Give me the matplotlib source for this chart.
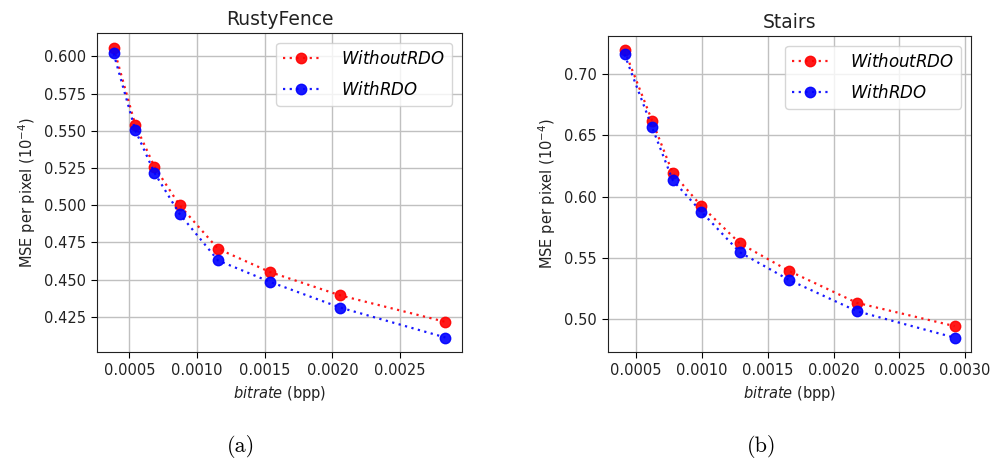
import numpy as np
import matplotlib.pyplot as plt
import matplotlib

matplotlib.rcParams['mathtext.fontset'] = 'dejavusans'

# RustyFence
rf_bpp_wo = [0.000384, 0.000544, 0.000685, 0.000871, 0.001155, 0.001541, 0.002058, 0.002834]
rf_mse_wo = [0.606, 0.554, 0.526, 0.500, 0.4707, 0.455, 0.4394, 0.4216]
rf_bpp_w = [0.000384, 0.000544, 0.000685, 0.000871, 0.001155, 0.001541, 0.002058, 0.002834]
rf_mse_w = [0.602, 0.5505, 0.5219, 0.4942, 0.4629, 0.4484, 0.4312, 0.4111]

# Stairs
st_bpp_wo = [0.000411, 0.000621, 0.000778, 0.000996, 0.001287, 0.001659, 0.002178, 0.002919]
st_mse_wo = [0.719, 0.6617, 0.619, 0.5922, 0.5620, 0.5396, 0.5135, 0.4946]
st_bpp_w = [0.000411, 0.000621, 0.000778, 0.000996, 0.001287, 0.001659, 0.002178, 0.002919]
st_mse_w = [0.7157, 0.6563, 0.6132, 0.5876, 0.5547, 0.5323, 0.5067, 0.4852]

titles = ['RustyFence', 'Stairs']
captions = ['(a)', '(b)']

W, H = 998, 463
fig = plt.figure(figsize=(W/100, H/100), dpi=100)

boxes = [(97, 33, 462, 352), (608, 36, 971, 352)]
cap_x = [241, 762]
data = [(rf_bpp_wo, rf_mse_wo, rf_bpp_w, rf_mse_w),
        (st_bpp_wo, st_mse_wo, st_bpp_w, st_mse_w)]

for i in range(2):
    x0, y0, x1, y1 = boxes[i]
    ax = fig.add_axes([x0/W, 1-y1/H, (x1-x0)/W, (y1-y0)/H])
    bwo, mwo, bw, mw = data[i]
    ax.plot(bwo, mwo, color='red', marker='o', markersize=7.5, lw=1.6,
            dashes=(1, 2), alpha=0.9, label='$WithoutRDO$')
    ax.plot(bw, mw, color='blue', marker='o', markersize=7.5, lw=1.6,
            dashes=(1, 2), alpha=0.9, label='$WithRDO$')
    ax.grid(True, color='#c0c0c0', lw=1.0)
    ax.set_title(titles[i], fontsize=13.5, color='#222222')
    ax.set_xlabel('$bitrate$ (bpp)', fontsize=10.5, color='#222222')
    ax.set_ylabel('MSE per pixel ($10^{-4}$)', fontsize=10.5, color='#222222')
    ax.tick_params(labelsize=10.5, labelcolor='#222222', length=4.5)
    for s in ax.spines.values():
        s.set_color('#222222')
    if i == 1:
        ax.set_xticks([0.0005, 0.0010, 0.0015, 0.0020, 0.0025, 0.0030])
        ax.set_yticks([0.50, 0.55, 0.60, 0.65, 0.70])
    ax.legend(loc='upper right', fontsize=12, handletextpad=1.3, labelspacing=0.8,
              handlelength=2.2, borderaxespad=0.6)
    fig.text(cap_x[i]/W, 1-446/H, captions[i], ha='center', va='center',
             fontsize=16, family='cmr10')

fig.savefig('out.png', dpi=100)
